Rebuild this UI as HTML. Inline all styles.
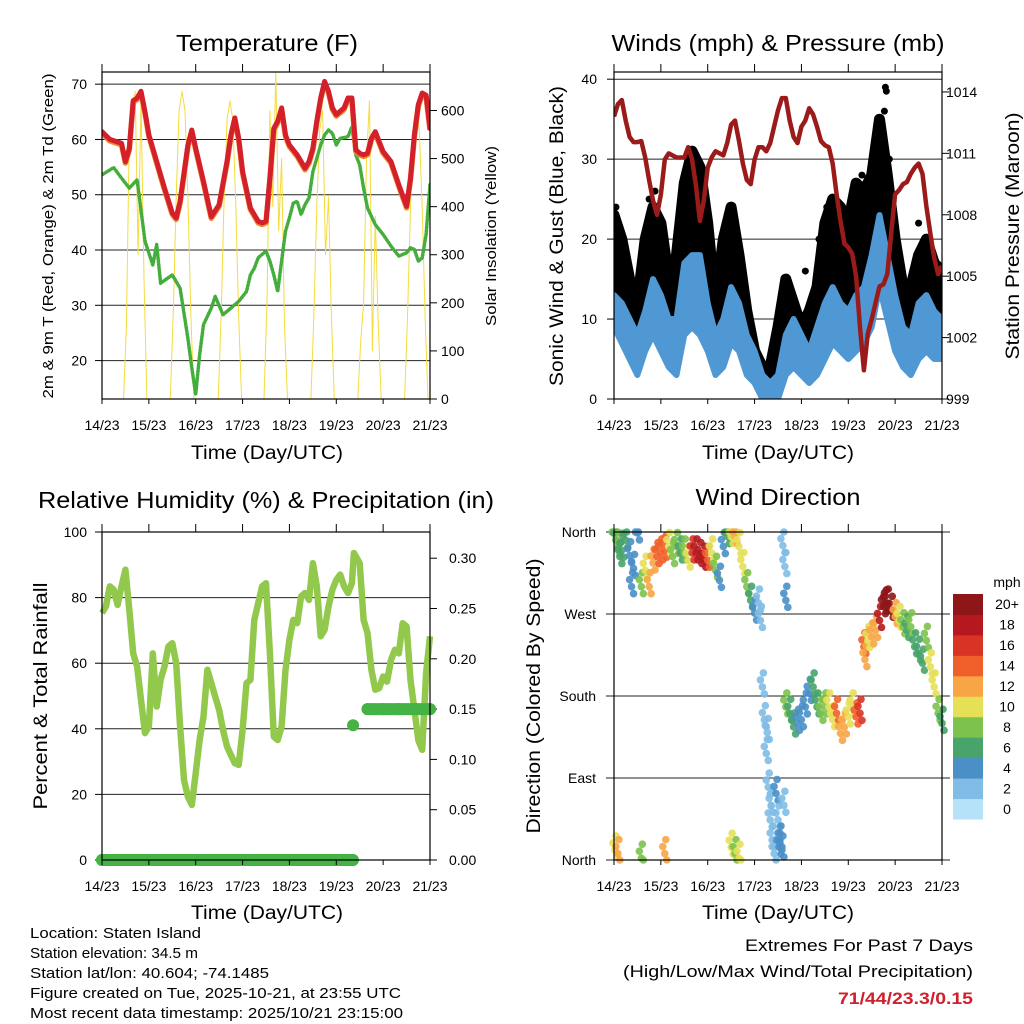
<!DOCTYPE html>
<html><head><meta charset="utf-8">
<style>
html,body{margin:0;padding:0;background:#fff;}
svg{display:block;font-family:"Liberation Sans",Arial,sans-serif;}
</style></head>
<body>
<svg id="fig" width="1024" height="1024" viewBox="0 0 1024 1024" xmlns="http://www.w3.org/2000/svg">
<defs>
<clipPath id="clipWind"><rect x="614" y="72" width="328" height="327"/></clipPath>
<clipPath id="clipTemp"><rect x="102" y="72" width="328" height="327"/></clipPath>
</defs>
<rect x="0" y="0" width="1024" height="1024" fill="#fff"/>
<text x="267" y="51" font-size="23" text-anchor="middle" textLength="182" lengthAdjust="spacingAndGlyphs">Temperature (F)</text>
<text x="778" y="51" font-size="23" text-anchor="middle" textLength="333" lengthAdjust="spacingAndGlyphs">Winds (mph) &amp; Pressure (mb)</text>
<text x="266" y="508" font-size="23" text-anchor="middle" textLength="456" lengthAdjust="spacingAndGlyphs">Relative Humidity (%) &amp; Precipitation (in)</text>
<text x="778" y="505" font-size="23" text-anchor="middle" textLength="165" lengthAdjust="spacingAndGlyphs">Wind Direction</text>
<text x="267" y="459" font-size="19" text-anchor="middle" textLength="152" lengthAdjust="spacingAndGlyphs">Time (Day/UTC)</text>
<text x="778" y="459" font-size="19" text-anchor="middle" textLength="152" lengthAdjust="spacingAndGlyphs">Time (Day/UTC)</text>
<text x="267" y="919" font-size="19" text-anchor="middle" textLength="152" lengthAdjust="spacingAndGlyphs">Time (Day/UTC)</text>
<text x="778" y="919" font-size="19" text-anchor="middle" textLength="152" lengthAdjust="spacingAndGlyphs">Time (Day/UTC)</text>
<text transform="translate(53,236) rotate(-90)" font-size="15" text-anchor="middle" textLength="325" lengthAdjust="spacingAndGlyphs">2m &amp; 9m T (Red, Orange) &amp; 2m Td (Green)</text>
<text transform="translate(496,236) rotate(-90)" font-size="15" text-anchor="middle" textLength="180" lengthAdjust="spacingAndGlyphs">Solar Insolation (Yellow)</text>
<text transform="translate(563,236) rotate(-90)" font-size="19" text-anchor="middle" textLength="300" lengthAdjust="spacingAndGlyphs">Sonic Wind &amp; Gust (Blue, Black)</text>
<text transform="translate(1019,236) rotate(-90)" font-size="19" text-anchor="middle" textLength="247" lengthAdjust="spacingAndGlyphs">Station Pressure (Maroon)</text>
<text transform="translate(47,696) rotate(-90)" font-size="19" text-anchor="middle" textLength="227" lengthAdjust="spacingAndGlyphs">Percent &amp; Total Rainfall</text>
<text transform="translate(540,696) rotate(-90)" font-size="19" text-anchor="middle" textLength="275" lengthAdjust="spacingAndGlyphs">Direction (Colored By Speed)</text>
<g font-size="15">
<text x="30" y="938" textLength="171" lengthAdjust="spacingAndGlyphs">Location: Staten Island</text>
<text x="30" y="958" textLength="168" lengthAdjust="spacingAndGlyphs">Station elevation: 34.5 m</text>
<text x="30" y="978" textLength="239" lengthAdjust="spacingAndGlyphs">Station lat/lon: 40.604; -74.1485</text>
<text x="30" y="998" textLength="371" lengthAdjust="spacingAndGlyphs">Figure created on Tue, 2025-10-21, at 23:55 UTC</text>
<text x="30" y="1018" textLength="373" lengthAdjust="spacingAndGlyphs">Most recent data timestamp: 2025/10/21 23:15:00</text>
</g>
<text x="973" y="951" font-size="17" text-anchor="end" textLength="228" lengthAdjust="spacingAndGlyphs">Extremes For Past 7 Days</text>
<text x="973" y="977" font-size="17" text-anchor="end" textLength="350" lengthAdjust="spacingAndGlyphs">(High/Low/Max Wind/Total Precipitation)</text>
<text x="973" y="1004" font-size="17" font-weight="bold" fill="#d0202e" text-anchor="end" textLength="135" lengthAdjust="spacingAndGlyphs">71/44/23.3/0.15</text>
<text x="1007" y="587" font-size="14" text-anchor="middle">mph</text>
</svg>
<script>
// ---------- data ----------
const dayLabels = ["14/23","15/23","16/23","17/23","18/23","19/23","20/23","21/23"];
// Temperature panel
const tempHours = [0,4,10,12,14,16,18,20,22,24,28,32,36,38,40,44,46,48,52,56,60,64,66,68,70,72,76,80,82,84,86,88,90,92,94,96,100,104,106,108,110,112,114,116,118,120,124,126,128,130,132,134,136,138,140,142,144,148,152,156,158,160,162,164,166,168];
const temp2m = [61.4,60,59.3,56,58.4,67,67.5,68.7,65,60.8,56,51.2,46.7,45.8,48.8,59,61.7,58.4,52.4,46,48.2,56,60.8,63.9,60.2,54.2,47.6,45.2,44.9,45.2,53,62,63.3,65.7,60.8,59,57.2,54.8,56,58.4,63.3,67.5,70.5,68.7,65.7,64.5,65.7,67.5,67.5,58.1,57.5,57.2,57.5,60.2,61.4,59.6,57.8,56,51.8,47.9,53,60.8,66.3,68.4,68,62];
const dewHours = [0,6,10,14,18,22,26,28,30,36,40,44,46,48,50,52,56,58,62,66,70,74,76,78,80,84,86,88,90,92,94,96,98,100,102,104,106,108,110,112,114,116,118,120,122,126,128,130,132,134,136,140,144,148,152,156,158,160,162,164,166,168];
const dewPoint = [53.6,54.9,53,51.2,52.7,41.6,37.3,41,34,35.5,33.1,24,18.7,13.9,21,26.5,29.5,31.6,28.3,29.5,30.7,32.5,35.5,36.7,38.6,39.8,38,35.5,32.5,38,43.4,45.8,48.5,48.8,46.4,48.2,49.4,54.2,56.6,59,60.8,61.7,61.1,59,60.2,60.5,62.3,57.2,55.4,51.2,47.6,44.6,42.8,40.7,38.9,39.5,40.4,40.1,38,38.6,42.8,51.8];
const solarHours = [0,11,12.5,14,15.5,17,18.5,20,21.5,23,35,36.5,38,39.5,41,42.5,44,45.5,47,59.5,61,62.5,64,65.5,67,68.5,70,71.5,83,84.5,86,87.5,89,90.5,92,93.5,95,107,108.5,110,111.5,113,114.5,116,117.5,119,131,132.5,134,135.5,137,138.5,140,141.5,143,155,156.5,158,159.5,161,162.5,164,165.5,167,168];
const solar = [0,0,150,550,600,640,300,620,250,0,0,180,420,600,640,600,420,180,0,0,170,410,580,620,580,410,170,0,0,200,600,400,680,350,500,150,0,0,170,400,560,600,300,420,170,0,0,120,200,500,620,100,380,150,0,0,170,400,570,610,560,400,170,0,0];
const tempTicks = [20,30,40,50,60,70];
const solarTicks = [0,100,200,300,400,500,600];
// Wind panel
const presHours = [0,2,4,6,8,10,12,14,16,18,20,22,24,26,28,32,36,38,40,42,44,46,48,50,52,56,58,60,62,64,66,68,70,72,74,76,78,80,82,84,86,88,90,92,94,96,98,100,102,104,106,108,110,112,114,116,118,120,122,124,126,128,130,132,134,136,138,140,142,144,146,148,150,152,154,156,158,160,162,164,166,168];
const pressure = [1012.8,1013.4,1013.6,1012.6,1011.8,1011.55,1011.55,1011.6,1010.8,1009.7,1008.7,1008,1009,1010.7,1011,1010.8,1010.8,1011.3,1010.7,1009.4,1007.7,1008.7,1010.3,1010.8,1011.1,1010.9,1011.5,1012.4,1012.6,1011.6,1010.5,1009.7,1009.5,1010.7,1011.3,1011.3,1011.1,1011.5,1012.3,1013.1,1013.7,1013.7,1012.6,1011.8,1011.5,1012.3,1012.6,1013.2,1012.9,1012.3,1011.6,1011.4,1011.3,1010.5,1009,1007.7,1006.6,1006.4,1006.1,1005,1002.5,1000.4,1002.2,1002.9,1003.7,1004.5,1004.6,1005.1,1007.1,1009,1009.2,1009.5,1009.6,1010,1010.3,1010.5,1010,1008.4,1007.1,1005.9,1005.1,1005.5];
const windHours = [0,4,8,12,16,20,24,28,32,36,40,44,48,52,56,60,64,68,72,76,80,84,88,92,96,100,104,108,112,116,120,124,128,132,136,140,144,148,152,156,160,164,168];
const windLow  = [9,7,5,3,6,8,6,4,3,8,9,8,6,3,4,7,6,3,2,0,0,0,3,4,3,2,3,5,7,6,5,6,7,9,14,10,6,4,3,5,6,5,5];
const windHigh = [13,12,10,8,11,15,13,10,10,17,18,18,12,8,10,14,12,8,6,3,2,3,8,10,8,6,9,12,14,12,11,13,14,18,23,18,13,9,8,12,13,11,10];
const gustLow  = [11,10,7,6,10,13,11,7,8,14,17,15,10,6,10,14,10,5,3,2,2,4,8,6,5,5,6,11,13,12,11,13,14,16,24,17,10,8,8,9,11,9,10];
const gustHigh = [23,20,15,12,20,24,22,15,18,27,31,29,22,12,20,24,18,11,6,4,4,9,15,12,9,11,14,22,25,24,22,27,26,28,35,28,20,14,14,18,20,17,16];
const gustOutHours = [1,18,21,37,41,43,57,59,98,105,109,127,137,138.5,139,139.5,141,156];
const gustOut = [24,25,26,28,29,27,22,23,16,20,24,28,33,36,39,38.5,30,22];
const windTicks = [0,10,20,30,40];
const presTicks = [999,1002,1005,1008,1011,1014];
// Humidity / precipitation panel
const rhHours = [0,2,4,6,8,10,12,14,16,18,20,22,24,26,28,30,32,34,36,38,40,42,44,46,48,50,52,54,56,58,60,62,64,66,68,70,72,74,76,78,80,82,84,86,88,90,92,94,96,98,100,102,104,106,108,110,112,114,116,118,120,122,124,126,128,129,132,134,136,138,140,142,144,146,148,150,152,154,156,158,160,162,164,166,168];
const rh = [75.3,77.3,83.4,82.4,77.8,83.4,88.5,76.3,63,59,48.8,38.7,40.7,63,46.8,55,59,65.1,66.1,60,40.7,24.4,19.3,16.8,26.4,36.6,43.7,58,53.9,49.8,45.8,39.7,34.6,32,29.5,29,39.7,53.9,54.9,73.2,78.3,83.4,84.4,63,37.6,36.6,40.7,58,67.1,73.2,72.2,80.4,81.4,79.3,90.5,83.4,68.2,70.2,77.3,82.4,85.4,87,83.4,81.4,84.4,93.6,90.5,73.2,69.2,58,51.9,52.4,55.9,54.4,61,64.1,63,72.2,71.2,54.9,45.8,36.6,33.6,57,68.2];
const rainHours = [0,8,16,24,32,40,48,56,64,72,80,88,96,104,112,120,128.5,128.6,136,144,152,160,168];
const rain = [0,0,0,0,0,0,0,0,0,0,0,0,0,0,0,0,0,0.134,0.15,0.15,0.15,0.15,0.15];
const rhTicks = [0,20,40,60,80,100];
const rainTicks = ["0.00","0.05","0.10","0.15","0.20","0.25","0.30"];
// Wind direction panel
const dirHours = [0,1,2,3,4,6,8,9,10,12,14,16,18,20,22,24,26,28,30,32,34,36,38,40,42,44,46,48,50,52,54,56,58,60,62,64,66,68,70,72,74,75,76,77,78,78.5,79,80,80.5,81,82,83,84,84.5,85,86,86.5,87,87.5,88,88,90,92,94,96,98,100,102,104,106,108,110,112,114,116,118,120,122,124,126,128,128.5,130,132,134,136,138,139,140,142,144,146,148,150,152,154,156,158,160,162,164,166,168,0.5,2,14,26,60,62,64];
const dirDeg = [359,351,344,333,340,351,334,300,320,359,300,318,300,326,333,337,340,344,333,344,337,337,329,337,337,333,329,329,337,318,307,344,355,355,355,344,322,300,285,271,282,263,190,154,117,140,80,44,60,22,7,73,44,14,22,11,345,60,322,285,168,161,146,150,154,168,183,190,168,161,168,168,154,161,139,146,157,168,157,161,234,220,241,245,252,263,278,281,282,274,267,263,256,252,256,234,227,216,241,212,190,161,150,11,7,2,7,14,7,2];
const dirSpeed = [7,6,8,5,6,5,3,3,4,4,7,10,12,12,13,13,14,10,8,7,6,8,10,15,17,18,17,13,10,7,4,4,6,9,12,10,9,7,6,4,2,1,1,1,2,2,1,2,1,1,1,3,2,3,3,3,1,2,1,3,7,6,5,4,4,4,4,5,5,7,8,10,10,14,12,11,10,10,14,15,14,12,9,11,12,17,20,22,21,19,12,9,7,6,7,5,6,5,8,9,10,7,5,10,11,7,12,9,8,10];
const speedBins = ["0","2","4","6","8","10","12","14","16","18","20+"];
const speedColors = ["#b5e2f8","#80bce6","#4a8fc6","#48a46a","#7cc24c","#e6e057","#f7a545","#ef5f2a","#d93326","#b5191f","#8e1518"];
const dirTickNames = ["North","East","South","West","North"];
const dirTickDeg = [0,90,180,270,360];

// ---------- helpers ----------
const NS = "http://www.w3.org/2000/svg";
const svg = document.getElementById("fig");
function mk(tag, attrs, parent) {
  const e = document.createElementNS(NS, tag);
  for (const k in attrs) e.setAttribute(k, attrs[k]);
  (parent || svg).appendChild(e);
  return e;
}
function pathFrom(xs, ys) {
  return xs.map((x, i) => (i ? "L" : "M") + x.toFixed(1) + "," + ys[i].toFixed(1)).join("");
}
const X0L = 102, X1L = 430, X0R = 614, X1R = 942;
function xs(x0, x1) { return t => x0 + t / 168 * (x1 - x0); }
function ys(v0, v1, y0, y1) { return v => y1 - (v - v0) / (v1 - v0) * (y1 - y0); }

function frame(name) {
  const g = mk("g", {});
  
  
  return g;
}
function xAxis(g, x0, x1, y0, y1, labelY) {
  const sx = xs(x0, x1);
  dayLabels.forEach((lab, i) => {
    const x = sx(i * 24);
    const t1 = mk("line", {x1: x, x2: x, y1: y0 - 8, y2: y0, stroke: "#000", "stroke-width": 1}, g);
    
    
    const t2 = mk("line", {x1: x, x2: x, y1: y1, y2: y1 + 5, stroke: "#000", "stroke-width": 1}, g);
    
    
    const tx = mk("text", {x: x, y: labelY, "font-size": 14, "text-anchor": "middle"}, g);
    tx.textContent = lab;
    
    
  });
}
function gridLine(g, x0, x1, y) {
  const l = mk("line", {x1: x0, x2: x1, y1: y, y2: y, stroke: "#222", "stroke-width": 1}, g);
  
  
}
function box(g, x0, x1, y0, y1) {
  const r = mk("rect", {x: x0, y: y0, width: x1 - x0, height: y1 - y0, fill: "none", stroke: "#000", "stroke-width": 1.2}, g);
  
  
}
function yLabel(g, x, y, txt, anchor, name) {
  const t = mk("text", {x: x, y: y + 5, "font-size": 14, "text-anchor": anchor}, g);
  t.textContent = txt;
  
  
}
function ytick(g, x, y, len, name) {
  const l = mk("line", {x1: x, x2: x + len, y1: y, y2: y, stroke: "#000", "stroke-width": 1}, g);
  
  
}

// ---------- Panel 1: temperature ----------
(function () {
  const y0 = 72, y1 = 399;
  const g = frame("temperature-panel");
  const sx = xs(X0L, X1L);
  const sy = ys(13.05, 72.2, y0, y1);
  const ss = ys(0, 680, y0, y1);
  tempTicks.forEach(v => {
    gridLine(g, X0L, X1L, sy(v));
    ytick(g, X0L - 7, sy(v), 7, 'temp-y-tick');
    yLabel(g, 87, sy(v), String(v), "end", 'temp-y-tick-label');
  });
  solarTicks.forEach(v => {
    ytick(g, X1L, ss(v), 7, 'solar-y-tick');
    yLabel(g, 441, ss(v), String(v), "start", 'solar-y-tick-label');
  });
  const clip = mk("g", {"clip-path": "url(#clipTemp)"}, g);
  
  
  const sol = mk("path", {d: pathFrom(solarHours.map(sx), solar.map(ss)), fill: "none", stroke: "#f5dc3c", "stroke-width": 1, "stroke-linejoin": "round"}, clip);
  
  
  const dew = mk("path", {d: pathFrom(dewHours.map(sx), dewPoint.map(sy)), fill: "none", stroke: "#45ad3c", "stroke-width": 3.5, "stroke-dasharray": "1.5 2", "stroke-linecap": "round", "stroke-linejoin": "round"}, clip);
  
  
  const org = mk("path", {d: pathFrom(tempHours.map(sx), temp2m.map(v => sy(v) + 1.5)), fill: "none", stroke: "#f08a30", "stroke-width": 5.5, "stroke-linejoin": "round"}, clip);
  
  
  const red = mk("path", {d: pathFrom(tempHours.map(sx), temp2m.map(sy)), fill: "none", stroke: "#d4202a", "stroke-width": 5, "stroke-linejoin": "round", "stroke-linecap": "round"}, clip);
  
  
  box(g, X0L, X1L, y0, y1);
  xAxis(g, X0L, X1L, y0, y1, 430);
})();

// ---------- Panel 2: winds & pressure ----------
(function () {
  const y0 = 72, y1 = 399;
  const g = frame("winds-panel");
  const sx = xs(X0R, X1R);
  const sw = ys(0, 40.9, y0, y1);
  const spr = v => y1 - (v - 999) * 20.47;
  windTicks.forEach(v => {
    gridLine(g, X0R, X1R, sw(v));
    ytick(g, X0R - 7, sw(v), 7, 'wind-y-tick');
    yLabel(g, 597, sw(v), String(v), "end", 'wind-y-tick-label');
  });
  presTicks.forEach(v => {
    ytick(g, X1R, spr(v), 7, 'pressure-y-tick');
    yLabel(g, 946, spr(v), String(v), "start", 'pressure-y-tick-label');
  });
  const clip = mk("g", {"clip-path": "url(#clipWind)"}, g);
  
  
  const gx = windHours.map(sx);
  const gd = pathFrom(gx, gustHigh.map(sw)) + pathFrom(gx.slice().reverse(), gustLow.slice().reverse().map(sw)).replace("M", "L") + "Z";
  const gust = mk("path", {d: gd, fill: "#000", stroke: "#000", "stroke-width": 11, "stroke-linejoin": "round"}, clip);
  
  
  gustOutHours.forEach((t, i) => {
    const c = mk("circle", {cx: sx(t), cy: sw(gustOut[i]), r: 3.5, fill: "#000"}, clip);
    
    
  });
  const wd = pathFrom(gx, windHigh.map(sw)) + pathFrom(gx.slice().reverse(), windLow.slice().reverse().map(sw)).replace("M", "L") + "Z";
  const wind = mk("path", {d: wd, fill: "#4f98d4", stroke: "#4f98d4", "stroke-width": 6, "stroke-linejoin": "round"}, clip);
  
  
  const pres = mk("path", {d: pathFrom(presHours.map(sx), pressure.map(spr)), fill: "none", stroke: "#9b1b1b", "stroke-width": 4.5, "stroke-linejoin": "round"}, clip);
  
  
  box(g, X0R, X1R, y0, y1);
  xAxis(g, X0R, X1R, y0, y1, 430);
})();

// ---------- Panel 3: humidity & precipitation ----------
(function () {
  const y0 = 532, y1 = 860;
  const g = frame("humidity-panel");
  const sx = xs(X0L, X1L);
  const sr = ys(0, 100, y0, y1);
  const sp = v => y1 - v / 0.05 * 50.3;
  rhTicks.forEach(v => {
    if (v > 0 && v < 100) gridLine(g, X0L, X1L, sr(v));
    ytick(g, X0L - 7, sr(v), 7, 'rh-y-tick');
    yLabel(g, 87, sr(v), String(v), "end", 'rh-y-tick-label');
  });
  rainTicks.forEach(v => {
    ytick(g, X1L, sp(+v), 7, 'rain-y-tick');
    yLabel(g, 449, sp(+v), v, "start", 'rain-y-tick-label');
  });
  const line = mk("path", {d: pathFrom(rhHours.map(sx), rh.map(sr)), fill: "none", stroke: "#92c94c", "stroke-width": 6.5, "stroke-linejoin": "round"}, g);
  
  
  for (let i = 0; i < rainHours.length - 1; i++) {
    if (rain[i] === rain[i + 1]) {
      const s = mk("line", {x1: sx(rainHours[i]), x2: sx(rainHours[i + 1]), y1: sp(rain[i]), y2: sp(rain[i]), stroke: "#45b245", "stroke-width": 12, "stroke-linecap": "round"}, g);
      
      
    }
  }
  rainHours.forEach((t, i) => {
    const c = mk("circle", {cx: sx(t), cy: sp(rain[i]), r: 6, fill: "#45b245"}, g);
    
    
  });
  box(g, X0L, X1L, y0, y1);
  xAxis(g, X0L, X1L, y0, y1, 891);
})();

// ---------- Panel 4: wind direction ----------
(function () {
  const y0 = 532, y1 = 860;
  const g = frame("wind-direction-panel");
  const sx = xs(X0R, X1R);
  const sd = ys(0, 360, y0, y1);
  dirTickDeg.forEach((v, i) => {
    const l = mk("line", {x1: X0R - 8, x2: X1R + 8, y1: sd(v), y2: sd(v), stroke: "#222", "stroke-width": 1}, g);
    
    
    yLabel(g, 596, sd(v), dirTickNames[i], "end", 'direction-tick-label');
  });
  const offs = [[0, 0], [-2, -7], [2, 7], [1, -14]];
  dirHours.forEach((t, i) => {
    const idx = Math.min(10, Math.round(dirSpeed[i] / 2));
    offs.forEach(o => {
      const c = mk("circle", {cx: sx(t) + o[0], cy: Math.max(y0, Math.min(y1, sd(dirDeg[i]) + o[1])), r: 3.8, fill: speedColors[idx], "fill-opacity": 0.9}, g);
      
      
    });
  });
  box(g, X0R, X1R, y0, y1);
  xAxis(g, X0R, X1R, y0, y1, 891);
  const cb = mk("g", {}, g);
  
  
  const h = 225 / speedColors.length;
  speedColors.forEach((c, i) => {
    const yy = 594 + (speedColors.length - 1 - i) * h;
    const r = mk("rect", {x: 953, y: yy, width: 30, height: h + 0.5, fill: c}, cb);
    
    
    const t = mk("text", {x: 1007, y: yy + h / 2 + 5, "font-size": 14, "text-anchor": "middle"}, cb);
    t.textContent = speedBins[i];
    
    
  });
})();
</script>
</body></html>
